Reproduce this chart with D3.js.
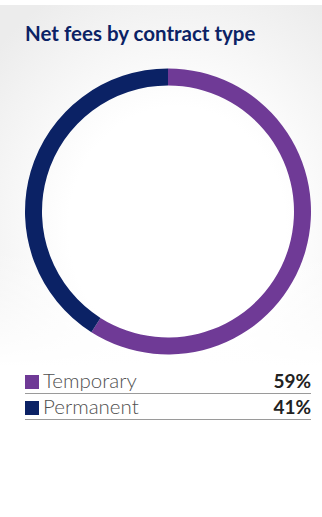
<!DOCTYPE html>
<html>
<head>
<meta charset="utf-8">
<script src="https://cdn.jsdelivr.net/npm/d3@7"></script>
<style>
  html, body { margin: 0; padding: 0; background: #fff; }
  svg { display: block; }
</style>
</head>
<body>
<svg id="chart"></svg>
<script>
const categories = ["Temporary", "Permanent"];
const values = [59, 41];
const valueLabels = ["59%", "41%"];
const colors = ["#6f3a96", "#0b2265"];

const width = 322, height = 517;
const svg = d3.select("#chart").attr("width", width).attr("height", height);

// soft grey panel behind title + donut
const defs = svg.append("defs");
const grad = defs.append("radialGradient")
    .attr("id", "panelGrad")
    .attr("cx", "55%").attr("cy", "62%").attr("r", "75%");
grad.append("stop").attr("offset", "45%").attr("stop-color", "#ffffff");
grad.append("stop").attr("offset", "100%").attr("stop-color", "#ececec");

svg.append("rect")
    .attr("x", 0).attr("y", 5)
    .attr("width", width).attr("height", 360)
    .attr("fill", "url(#panelGrad)");

// fade bottom of panel into white
const fade = defs.append("linearGradient")
    .attr("id", "fadeGrad").attr("x1", 0).attr("y1", 0).attr("x2", 0).attr("y2", 1);
fade.append("stop").attr("offset", "0%").attr("stop-color", "#fff").attr("stop-opacity", 0);
fade.append("stop").attr("offset", "100%").attr("stop-color", "#fff").attr("stop-opacity", 1);
svg.append("rect")
    .attr("x", 0).attr("y", 250)
    .attr("width", width).attr("height", 116)
    .attr("fill", "url(#fadeGrad)");

svg.append("text")
    .attr("x", 25).attr("y", 41)
    .attr("fill", "#0b2265")
    .style("font-family", "Lato, 'Open Sans', sans-serif")
    .style("font-weight", "700")
    .style("font-size", "20.5px")
    .text("Net fees by contract type");

// donut
const cx = 168, cy = 211.5;
const outerR = 143, innerR = 126;

const pie = d3.pie().sort(null).value(d => d);
const arc = d3.arc().innerRadius(innerR).outerRadius(outerR);

svg.append("g")
    .attr("transform", `translate(${cx},${cy})`)
    .selectAll("path")
    .data(pie(values))
    .join("path")
    .attr("d", arc)
    .attr("fill", (d, i) => colors[i]);

// legend
const legendX = 25, legendRight = 311, rowTop = 367, rowH = 26;

const rows = svg.append("g")
    .selectAll("g")
    .data(categories)
    .join("g")
    .attr("transform", (d, i) => `translate(0,${rowTop + i * rowH})`);

rows.append("rect")
    .attr("x", legendX).attr("y", 8)
    .attr("width", 14).attr("height", 14)
    .attr("fill", (d, i) => colors[i]);

rows.append("text")
    .attr("x", legendX + 18).attr("y", 21)
    .attr("fill", "#505050")
    .style("font-family", "Lato, 'Open Sans', sans-serif")
    .style("font-weight", "300")
    .style("font-size", "20.5px")
    .text(d => d);

rows.append("text")
    .attr("x", legendRight).attr("y", 21)
    .attr("text-anchor", "end")
    .attr("fill", "#222")
    .style("font-family", "Lato, 'Open Sans', sans-serif")
    .style("font-weight", "700")
    .style("font-size", "19px")
    .text((d, i) => valueLabels[i]);

rows.append("line")
    .attr("x1", legendX).attr("x2", legendRight)
    .attr("y1", 26.5).attr("y2", 26.5)
    .attr("stroke", "#9a9a9a")
    .attr("stroke-width", 1);
</script>
</body>
</html>
